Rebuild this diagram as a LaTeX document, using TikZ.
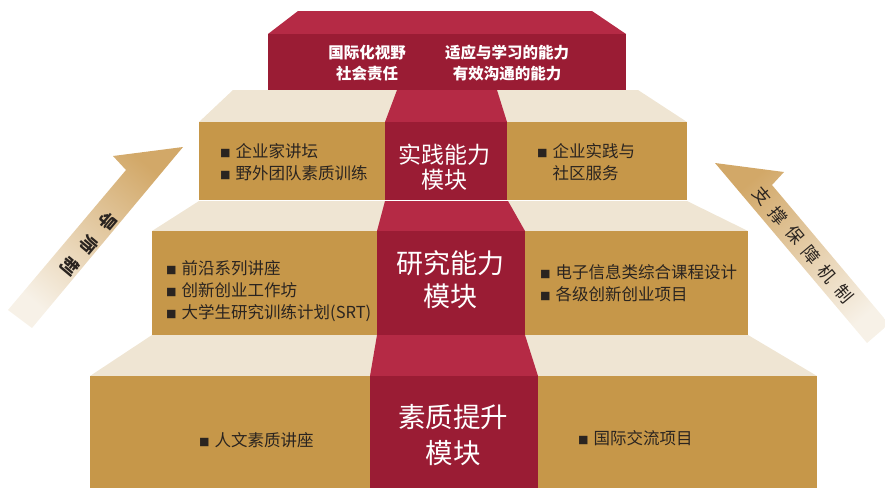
\documentclass[tikz,border=0pt]{standalone}
\usepackage{fontspec}
\setmainfont{Noto Sans CJK SC}
\definecolor{carpettop}{HTML}{B52A45}
\definecolor{carpetfront}{HTML}{9A1C34}
\definecolor{stepfront}{HTML}{C69749}
\definecolor{steptop}{HTML}{EFE5D3}
\definecolor{itemtext}{HTML}{2A2420}
\definecolor{arrowdark}{HTML}{D2A868}
\definecolor{arrowlight}{HTML}{F7F1E7}
\newcommand{\sqitem}{{\fontsize{10.5}{10}\selectfont ■}\hspace{5pt}}

\begin{document}
\begin{tikzpicture}[x=1pt,y=-1pt,
  topface/.style={fill=steptop},
  frontface/.style={fill=stepfront},
  ctop/.style={fill=carpettop},
  cfront/.style={fill=carpetfront},
  module/.style={text=white,align=center,inner sep=0pt},
  items/.style={text=itemtext,anchor=west,align=left,inner sep=0pt,font=\fontsize{16.5}{22}\selectfont},
  goal/.style={text=white,align=center,inner sep=0pt,font=\bfseries\fontsize{15.5}{21}\selectfont},
  arrowtext/.style={text=itemtext,inner sep=0pt,font=\fontsize{17.5}{17}\selectfont},
  ]
\useasboundingbox (0,0) rectangle (885,488);

\shade[top color=arrowdark,bottom color=arrowlight,shading angle=-40]
  (8,310) -- (126,170) -- (113,156) -- (183,147) -- (32,328) -- cycle;
\shade[top color=arrowdark,bottom color=arrowlight,shading angle=40]
  (715,163) -- (784,172) -- (772,185) -- (889,324) -- (867,343) -- cycle;
\node[arrowtext,font=\bfseries\fontsize{17.5}{17}\selectfont,rotate=-130] (mentor) at (89,244) {导\hspace{12pt}师\hspace{12pt}制};
\node[arrowtext,rotate=-50] (support) at (803,245) {支\hspace{8pt}撑\hspace{8pt}保\hspace{8pt}障\hspace{8pt}机\hspace{8pt}制};

\fill[topface] (152,335) -- (748,335) -- (817,376) -- (90,376) -- cycle;
\fill[ctop] (377,335) -- (525,335) -- (538,376) -- (370,376) -- cycle;
\fill[frontface] (90,376) rectangle (817,488);
\fill[cfront] (370,376) rectangle (538,488);

\fill[topface] (199,201) -- (687,201) -- (748,231) -- (152,231) -- cycle;
\fill[ctop] (385,201) -- (508,201) -- (525,231) -- (377,231) -- cycle;
\fill[frontface] (152,231) rectangle (748,335);
\fill[cfront] (377,231) rectangle (525,335);

\fill[topface] (233,90) -- (638,90) -- (687,122) -- (199,122) -- cycle;
\fill[ctop] (397,90) -- (497,90) -- (507,122) -- (385,122) -- cycle;
\fill[frontface] (199,122) rectangle (687,200);
\fill[cfront] (385,122) rectangle (507,200);

\fill[ctop] (298,11) -- (592,11) -- (626,34) -- (268,34) -- cycle;
\fill[cfront] (268,34) rectangle (626,90);

\node[goal] (vision) at (367,63) {国际化视野\\社会责任};
\node[goal] (ability) at (507,63) {适应与学习的能力\\有效沟通的能力};

\node[module,font=\fontsize{23}{25}\selectfont] (practice) at (444,167) {实践能力\\模块};
\node[items] (practiceL) at (220,162) {\sqitem 企业家讲坛\\\sqitem 野外团队素质训练};
\node[items] (practiceR) at (537,162) {\sqitem 企业实践与\\\hphantom{\sqitem}社区服务};

\node[module,font=\fontsize{27}{33}\selectfont] (research) at (450,280) {研究能力\\模块};
\node[items] (researchL) at (166,291) {\sqitem 前沿系列讲座\\\sqitem 创新创业工作坊\\\sqitem 大学生研究训练计划(SRT)};
\node[items] (researchR) at (540,283) {\sqitem 电子信息类综合课程设计\\\sqitem 各级创新创业项目};

\node[module,font=\fontsize{27.5}{36}\selectfont] (quality) at (453,435) {素质提升\\模块};
\node[items] (qualityL) at (199,440) {\sqitem 人文素质讲座};
\node[items] (qualityR) at (578,438) {\sqitem 国际交流项目};
\end{tikzpicture}
\end{document}
